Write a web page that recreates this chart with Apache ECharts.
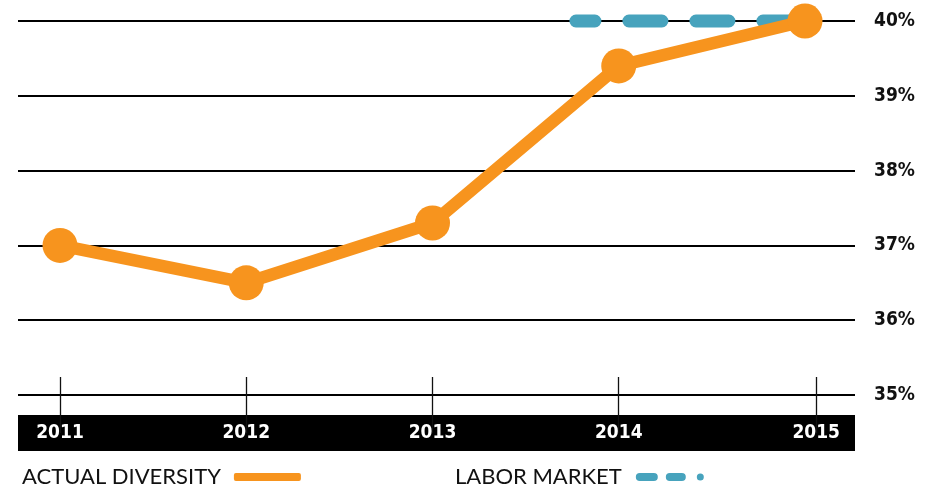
<!DOCTYPE html>
<html>
<head>
<meta charset="utf-8">
<script src="https://cdn.jsdelivr.net/npm/echarts@6/dist/echarts.min.js"></script>
<style>
  html, body { margin: 0; padding: 0; background: #fff; }
  #chart { width: 925px; height: 492px; }
</style>
</head>
<body>
<div id="chart"></div>
<script>
// Data
const years = [2011, 2012, 2013, 2014, 2015];
const actualDiversity = [37.0, 36.5, 37.3, 39.4, 40.0];
// labor market benchmark line starts a little before 2014
const laborYears = [2013.77, 2015];
const laborMarket = [40, 40];
// tick/label positions on the year axis (2015 tick sits a bit right of its point)
const tickYears = [2011, 2012, 2013, 2014, 2015.06];
const yTicks = [35, 36, 37, 38, 39, 40];

const ORANGE = '#f7941e';
const BLUE = '#47a3bd';
const NARROW = '"Liberation Sans Narrow", "DejaVu Sans Condensed", sans-serif';

const chart = echarts.init(document.getElementById('chart'));

const legendText = {
  fontFamily: 'Lato', fontWeight: 400, fontSize: 22, color: '#111',
  padding: [0, 8, 0, 0]
};

const option = {
  animation: false,
  grid: { left: 18, right: 70, top: 21, bottom: 97 },
  legend: [
    {
      left: 17, top: 461,
      align: 'right',
      itemWidth: 67, itemHeight: 8,
      textStyle: legendText,
      data: [{ name: 'ACTUAL DIVERSITY', icon: 'roundRect' }]
    },
    {
      left: 450, top: 461,
      align: 'right',
      itemWidth: 70, itemHeight: 8,
      textStyle: legendText,
      data: [{
        name: 'LABOR MARKET',
        icon: 'path://M4,0 H18 A4,4 0 0 1 18,8 H4 A4,4 0 0 1 4,0 Z M34,0 H46 A4,4 0 0 1 46,8 H34 A4,4 0 0 1 34,0 Z M61,4 A3.5,3.5 0 1 0 68,4 A3.5,3.5 0 1 0 61,4 Z'
      }]
    }
  ],
  xAxis: {
    type: 'value',
    min: 2010.7745,
    max: 2015.2685,
    offset: 38,
    splitLine: { show: false },
    axisLine: { show: true, lineStyle: { color: '#000', width: 36, cap: 'butt' } },
    axisTick: {
      show: true, inside: true, length: 56,
      customValues: tickYears,
      lineStyle: { color: '#111', width: 1.3 }
    },
    axisLabel: {
      customValues: tickYears,
      margin: 0,
      verticalAlign: 'middle',
      color: '#fff',
      fontFamily: NARROW,
      fontWeight: 'bold',
      fontSize: 19,
      formatter: v => String(Math.round(v))
    }
  },
  yAxis: {
    type: 'value',
    position: 'right',
    min: yTicks[0],
    max: yTicks[yTicks.length - 1],
    interval: 1,
    axisLine: { show: false },
    axisTick: { show: false },
    splitLine: { lineStyle: { color: '#000', width: 1.8 } },
    axisLabel: {
      margin: 19,
      color: '#111',
      fontFamily: NARROW,
      fontWeight: 'bold',
      fontSize: 19,
      formatter: '{value}%'
    }
  },
  series: [
    {
      name: 'LABOR MARKET',
      type: 'line',
      data: laborYears.map((x, i) => [x, laborMarket[i]]),
      symbol: 'none',
      color: BLUE,
      clip: false,
      lineStyle: { color: BLUE, width: 13, type: [33, 34], dashOffset: 14, cap: 'round' },
      z: 2
    },
    {
      name: 'ACTUAL DIVERSITY',
      type: 'line',
      data: years.map((x, i) => [x, actualDiversity[i]]),
      symbol: 'circle',
      symbolSize: 35,
      color: ORANGE,
      clip: false,
      itemStyle: { color: ORANGE },
      lineStyle: { color: ORANGE, width: 12.5, join: 'round' },
      z: 3
    }
  ]
};

chart.setOption(option);
</script>
</body>
</html>
